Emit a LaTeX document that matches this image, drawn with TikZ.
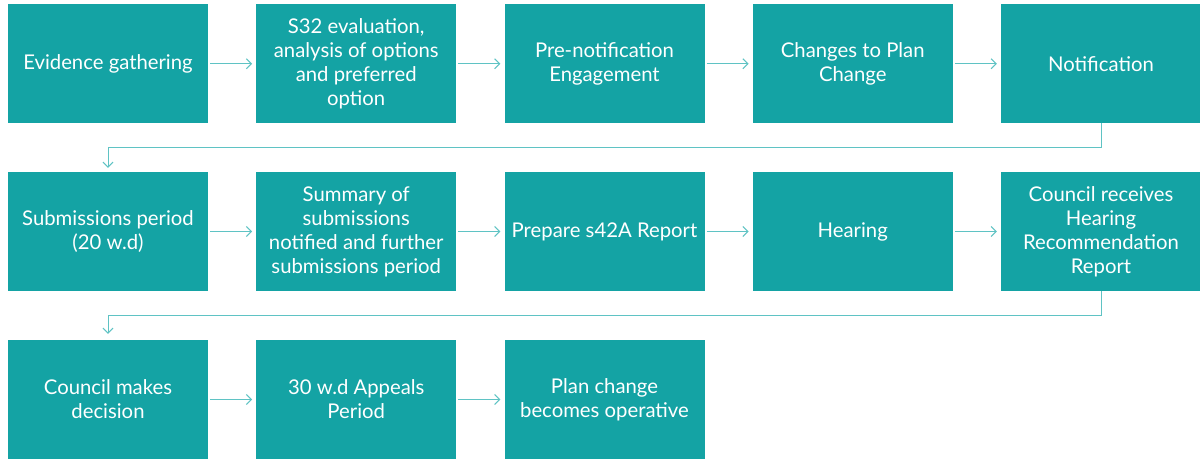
\documentclass[tikz,border=0pt]{standalone}
\usepackage{fontspec}
\setmainfont{Lato}
\usetikzlibrary{arrows.meta}
\definecolor{boxteal}{RGB}{20,163,164}
\definecolor{lineteal}{RGB}{95,195,196}
\begin{document}
\begin{tikzpicture}[x=1pt,y=-1pt,
  stepbox/.style={fill=boxteal, draw=none, minimum width=200pt, minimum height=119pt,
    inner sep=0pt, align=center, text=white, font=\fontsize{20.3}{24}\selectfont},
  flow/.style={draw=lineteal, line width=1pt, -{Straight Barb[length=5pt,width=10pt,line width=1pt]}}
]
\useasboundingbox (0,0) rectangle (1200,459);
\fill[white] (0,0) rectangle (1200,459);
% row 1
\node[stepbox] (a1) at (108,63.75) {Evidence gathering};
\node[stepbox] (a2) at (356.25,63.75) {S32 evaluation,\\analysis of options\\and preferred\\option};
\node[stepbox] (a3) at (604.5,63.75) {Pre-notification\\Engagement};
\node[stepbox] (a4) at (852.75,63.75) {Changes to Plan\\Change};
\node[stepbox] (a5) at (1101,63.75) {Notification};
% row 2
\node[stepbox] (a6) at (108,231.5) {Submissions period\\(20 w.d)};
\node[stepbox] (a7) at (356.25,231.5) {Summary of\\submissions\\notified and further\\submissions period};
\node[stepbox] (a8) at (604.5,231.5) {Prepare s42A Report};
\node[stepbox] (a9) at (852.75,231.5) {Hearing};
\node[stepbox] (a10) at (1101,231.5) {Council receives\\Hearing\\Recommendation\\Report};
% row 3
\node[stepbox] (a11) at (108,399.5) {Council makes\\decision};
\node[stepbox] (a12) at (356.25,399.5) {30 w.d Appeals\\Period};
\node[stepbox] (a13) at (604.5,399.5) {Plan change\\becomes operative};
% horizontal connectors
\foreach \p/\q in {a1/a2,a2/a3,a3/a4,a4/a5,a6/a7,a7/a8,a8/a9,a9/a10,a11/a12,a12/a13}
  \draw[flow, shorten <=2pt, shorten >=4pt] (\p.east) -- (\q.west);
% row-to-row connectors
\coordinate (m1) at (0,147.3);
\coordinate (m2) at (0,315.3);
\draw[flow, shorten >=4pt] (a5.south) -- (a5.south |- m1) -- (a6.north |- m1) -- (a6.north);
\draw[flow, shorten >=6pt] (a10.south) -- (a10.south |- m2) -- (a11.north |- m2) -- (a11.north);
\end{tikzpicture}
\end{document}
